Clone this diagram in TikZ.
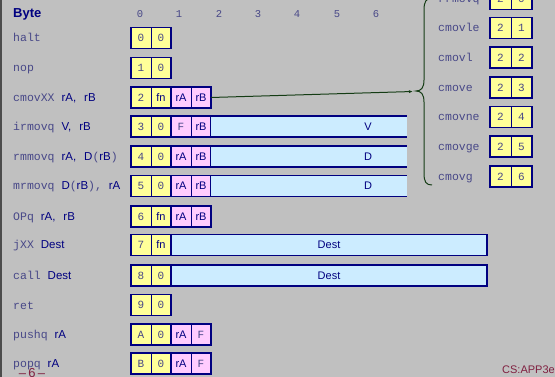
\documentclass[tikz,border=0pt]{standalone}
\usepackage{fontspec}
\setmainfont{Liberation Sans}
\setsansfont{Liberation Sans}
\setmonofont{Liberation Mono}
\usetikzlibrary{arrows.meta}

\definecolor{bg}{RGB}{192,192,192}
\definecolor{navy}{RGB}{0,0,128}
\definecolor{yel}{RGB}{255,255,153}
\definecolor{pnk}{RGB}{255,204,255}
\definecolor{lblue}{RGB}{204,236,255}
\definecolor{opc}{RGB}{72,72,136}
\definecolor{brc}{RGB}{20,60,20}
\definecolor{maroon}{RGB}{128,32,64}

% opcode names and hex digits are set in a typewriter face
\newcommand\mono[1]{{\ttfamily\color{opc}#1}}

% one instruction byte: two nibble cells inside a heavy outline
\newcommand\bytebox[6]{%
  \node[cell,fill=#4] (#1a) at (#2,#3) {#5};
  \node[cell,fill=#4] (#1b) at (#1a.east) {#6};
  \draw[grp] (#1a.north west) rectangle (#1b.south east);}

\begin{document}
\begin{tikzpicture}[x=1pt,y=-1pt,
  lab/.style={anchor=base west,inner sep=0pt,text=navy,font=\fontsize{11.5}{13}\selectfont},
  colnum/.style={anchor=base,inner sep=0pt,font=\ttfamily\fontsize{10.5}{12}\selectfont,text=opc},
  cell/.style={anchor=west,minimum width=20pt,minimum height=21pt,inner sep=0pt,outer sep=0pt,
    draw=navy,line width=0.6pt,text=navy,font=\fontsize{11}{13}\selectfont},
  rcell/.style={cell,minimum width=21pt},
  grp/.style={draw=navy,line width=1.8pt},
  longbox/.style={cell,fill=lblue,line width=1.8pt},
  foot/.style={inner sep=0pt,text=maroon,font=\fontsize{11}{13}\selectfont}]

\useasboundingbox (0,0) rectangle (555,377);
\clip (0,0) rectangle (555,377);
\fill[bg] (0,0) rectangle (555,377);
\draw[black!70,line width=2.5pt] (1.2,0) -- (1.2,377);

% header
\node[lab,font=\bfseries\fontsize{13}{15}\selectfont] (byte) at (13,18) {Byte};
\foreach \i/\x in {0/140,1/179,2/219,3/258,4/297,5/337,6/376}
  \node[colnum] (col\i) at (\x,17.5) {\i};

% instruction names
\node[lab] (lhalt) at (13,42)    {\mono{halt}};
\node[lab] (lnop)  at (13,72)    {\mono{nop}};
\node[lab] (lcmov) at (13,101.5) {\mono{cmovXX\ }rA,\hspace{8pt}rB};
\node[lab] (lirm)  at (13,130.5) {\mono{irmovq\ }V,\hspace{8pt}rB};
\node[lab] (lrmm)  at (13,160.5) {\mono{rmmovq\ }rA,\hspace{8pt}D\mono{(}rB\mono{)}};
\node[lab] (lmrm)  at (13,190)   {\mono{mrmovq\ }D\mono{(}rB\mono{),\ }rA};
\node[lab] (lopq)  at (13,220.5) {\mono{OPq\ }rA,\hspace{8pt}rB};
\node[lab] (ljxx)  at (13,249)   {\mono{jXX\ }Dest};
\node[lab] (lcall) at (13,279.5) {\mono{call\ }Dest};
\node[lab] (lret)  at (13,309)   {\mono{ret}};
\node[lab] (lpush) at (13,338.5) {\mono{pushq\ }rA};
\node[lab] (lpop)  at (13,367.5) {\mono{popq\ }rA};

% encodings
\bytebox{halt}{131}{38}{yel}{\mono{0}}{\mono{0}}
\bytebox{nop}{131}{68}{yel}{\mono{1}}{\mono{0}}
\bytebox{cmv}{131}{97.5}{yel}{\mono{2}}{fn}
\bytebox{cmr}{171}{97.5}{pnk}{rA}{rB}

\bytebox{irm}{131}{126.5}{yel}{\mono{3}}{\mono{0}}
\bytebox{irr}{171}{126.5}{pnk}{\mono{F}}{rB}
\fill[lblue] (irrb.north east) rectangle ++(196,21);
\draw[grp] (irrb.north east) -- ++(196,0) (irrb.south east) -- ++(196,0);
\node[text=navy,font=\fontsize{11}{13}\selectfont] (irv) at (368,126.5) {V};

\bytebox{rmm}{131}{156.5}{yel}{\mono{4}}{\mono{0}}
\bytebox{rmr}{171}{156.5}{pnk}{rA}{rB}
\fill[lblue] (rmrb.north east) rectangle ++(196,21);
\draw[grp] (rmrb.north east) -- ++(196,0) (rmrb.south east) -- ++(196,0);
\node[text=navy,font=\fontsize{11}{13}\selectfont] (rmd) at (368,156.5) {D};

\bytebox{mrm}{131}{186}{yel}{\mono{5}}{\mono{0}}
\bytebox{mrr}{171}{186}{pnk}{rA}{rB}
\fill[lblue] (mrrb.north east) rectangle ++(196,21);
\draw[grp] (mrrb.north east) -- ++(196,0) (mrrb.south east) -- ++(196,0);
\node[text=navy,font=\fontsize{11}{13}\selectfont] (mrd) at (368,186) {D};

\bytebox{opq}{131}{216.5}{yel}{\mono{6}}{fn}
\bytebox{opr}{171}{216.5}{pnk}{rA}{rB}

\bytebox{jxx}{131}{245}{yel}{\mono{7}}{fn}
\node[longbox,minimum width=316pt] (jdest) at (jxxb.east) {Dest};

\bytebox{cal}{131}{275.5}{yel}{\mono{8}}{\mono{0}}
\node[longbox,minimum width=316pt] (cdest) at (calb.east) {Dest};

\bytebox{ret}{131}{305}{yel}{\mono{9}}{\mono{0}}

\bytebox{psh}{131}{334.5}{yel}{\mono{A}}{\mono{0}}
\bytebox{psr}{171}{334.5}{pnk}{rA}{\mono{F}}

\bytebox{pop}{131}{363.5}{yel}{\mono{B}}{\mono{0}}
\bytebox{ppr}{171}{363.5}{pnk}{rA}{\mono{F}}

% conditional move variants
\foreach \n/\f/\y [count=\k] in {rrmovq/0/-1,cmovle/1/28,cmovl/2/57.5,cmove/3/87.5,
    cmovne/4/117,cmovge/5/146.5,cmovg/6/176.5}{
  \node[lab] (v\k) at (438,\y+4) {\mono{\n}};
  \node[rcell,fill=yel] (v\k a) at (490,\y) {\mono{2}};
  \node[rcell,fill=yel] (v\k b) at (v\k a.east) {\mono{\f}};
  \draw[grp] (v\k a.north west) rectangle (v\k b.south east);
}

% brace grouping the variants
\draw[brc,line width=1pt]
  (432,-2) .. controls (426,-2) and (424,2) .. (424,10) -- (424,80)
  .. controls (424,88) and (421,91) .. (416,91)
  .. controls (421,91) and (424,94) .. (424,102) -- (424,173)
  .. controls (424,182) and (426,185) .. (432,185);
\coordinate (tip) at (413,91.5);
\draw[brc,line width=1pt,-{Latex[length=4pt,width=3pt]}] (cmrb.east) -- (tip);

% footer
\node[foot,font=\fontsize{13}{15}\selectfont] (pg) at (32,373) {--\,6\,--};
\node[foot,anchor=east] (src) at (555,370) {CS:APP3e};
\end{tikzpicture}
\end{document}
